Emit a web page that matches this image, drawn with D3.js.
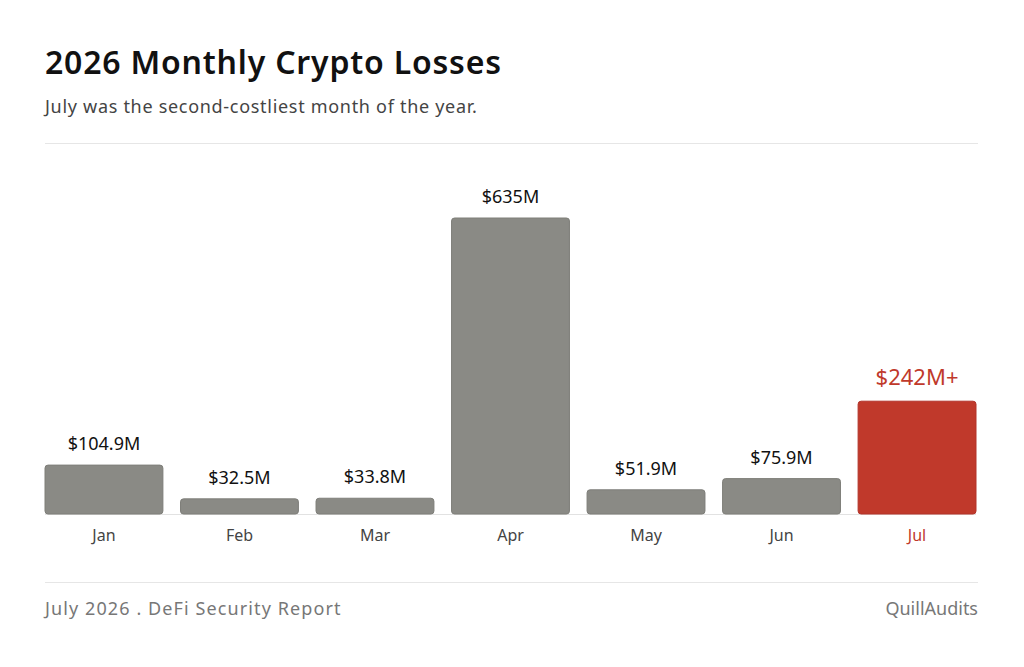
<!DOCTYPE html>
<html>
<head>
<meta charset="utf-8">
<script src="https://cdn.jsdelivr.net/npm/d3@7"></script>
<style>
  html, body { margin: 0; padding: 0; background: #fff; }
  svg { display: block; font-family: 'Noto Sans', Lato, sans-serif; }
</style>
</head>
<body>
<svg id="chart" width="1024" height="667"></svg>
<script>
'use strict'

const months = ['Jan', 'Feb', 'Mar', 'Apr', 'May', 'Jun', 'Jul']
const losses = [104.9, 32.5, 33.8, 635, 51.9, 75.9, 242]
const valueLabels = ['$104.9M', '$32.5M', '$33.8M', '$635M', '$51.9M', '$75.9M', '$242M+']
const highlight = 'Jul'

const plotLeft = 45, plotRight = 976, baseline = 514, plotTop = 218

const svg = d3.select('#chart')
const data = months.map((m, i) => ({ month: m, value: losses[i], label: valueLabels[i] }))

const x = d3.scaleBand().domain(months).range([plotLeft, plotRight]).paddingInner(0.13).paddingOuter(0)
const y = d3.scaleLinear().domain([0, d3.max(losses)]).range([baseline, plotTop])

// header
svg.append('text').attr('x', 45).attr('y', 74)
  .attr('font-size', 32).attr('font-weight', 600).attr('fill', '#111')
  .attr('letter-spacing', 0.8)
  .text('2026 Monthly Crypto Losses')
svg.append('text').attr('x', 45).attr('y', 113)
  .attr('font-size', 18).attr('fill', '#444')
  .attr('letter-spacing', 0.7)
  .text('July was the second-costliest month of the year.')
svg.append('line').attr('x1', 45).attr('x2', 978).attr('y1', 143.5).attr('y2', 143.5)
  .attr('stroke', '#e6e6e6')

// baseline
svg.append('line').attr('x1', plotLeft).attr('x2', plotRight).attr('y1', baseline + 0.5).attr('y2', baseline + 0.5)
  .attr('stroke', '#e2e2e2')

const bars = svg.append('g').selectAll('g').data(data).enter().append('g')

bars.append('rect')
  .attr('x', d => x(d.month)).attr('width', x.bandwidth())
  .attr('y', d => y(d.value)).attr('height', d => baseline - y(d.value))
  .attr('rx', 3)
  .attr('fill', d => d.month === highlight ? '#c0392b' : '#8a8a85')
  .attr('stroke', d => d.month === highlight ? '#b3342a' : '#7e7e79')
  .attr('stroke-width', 1)

bars.append('text')
  .attr('x', d => x(d.month) + x.bandwidth() / 2)
  .attr('y', d => y(d.value) - (d.month === highlight ? 16 : 15))
  .attr('text-anchor', 'middle')
  .attr('font-size', d => d.month === highlight ? 22 : 18)
  .attr('fill', d => d.month === highlight ? '#c0392b' : '#111')
  .text(d => d.label)

// month axis
const axis = svg.append('g').attr('transform', `translate(0,${baseline})`)
  .call(d3.axisBottom(x).tickSize(0).tickPadding(16))
axis.select('.domain').remove()
axis.selectAll('text')
  .attr('font-family', "'Noto Sans', Lato, sans-serif")
  .attr('font-size', 16)
  .attr('fill', d => d === highlight ? '#c0392b' : '#444')

// footer
svg.append('line').attr('x1', 45).attr('x2', 978).attr('y1', 582.5).attr('y2', 582.5)
  .attr('stroke', '#e6e6e6')
svg.append('text').attr('x', 45).attr('y', 615)
  .attr('font-size', 18).attr('fill', '#777').attr('letter-spacing', 1.1)
  .text('July 2026 . DeFi Security Report')
svg.append('text').attr('x', 978).attr('y', 615).attr('text-anchor', 'end')
  .attr('font-size', 18).attr('fill', '#777')
  .text('QuillAudits')
</script>
</body>
</html>
